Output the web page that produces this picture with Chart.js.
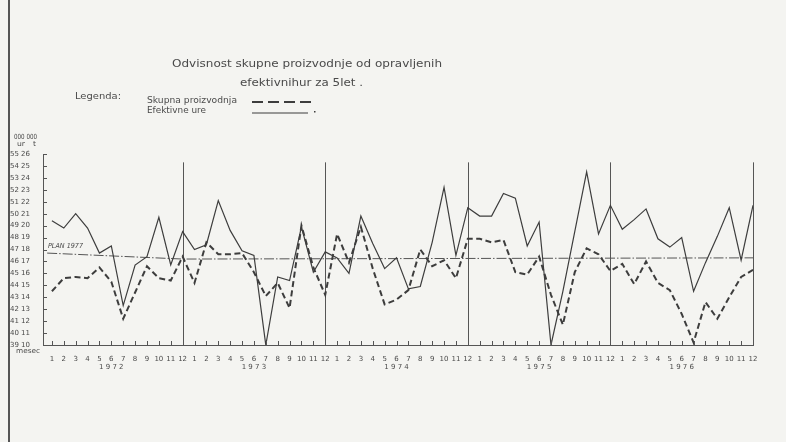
<!DOCTYPE html>
<html>
<head>
<meta charset="utf-8">
<script src="https://cdn.jsdelivr.net/npm/chart.js@4.4.1/dist/chart.umd.min.js"></script>
<style>
  html, body { margin: 0; padding: 0; background: #f3f3f0; }
  canvas { display: block; }
</style>
</head>
<body>
<canvas id="chart" width="786" height="442"></canvas>
<script>
// months 1..12 repeated for 5 years, one year label per block
const monthLabels = ['1', '2', '3', '4', '5', '6', '7', '8', '9', '10', '11', '12'];
const yearLabels = ['1 9 7 2', '1 9 7 3', '1 9 7 4', '1 9 7 5', '1 9 7 6'];

// left column = 000 ur, right column = 000 t
const hoursTicks = [39, 40, 41, 42, 43, 44, 45, 46, 47, 48, 49, 50, 51, 52, 53, 54, 55];
const prodTicks = [10, 11, 12, 13, 14, 15, 16, 17, 18, 19, 20, 21, 22, 23, 24, 25, 26];

// Efektivne ure (000 ur), Jan 1972 .. Dec 1976
const efektivneUre = [
  49.4, 48.8, 50.0, 48.8, 46.7, 47.3, 42.3, 45.7, 46.4, 49.7, 45.7, 48.5,
  47.0, 47.4, 51.1, 48.6, 46.9, 46.5, 39.0, 44.7, 44.4, 48.9, 45.1, 46.8,
  46.3, 45.0, 49.8, 47.5, 45.4, 46.3, 43.7, 43.9, 47.6, 52.2, 46.5, 50.5,
  49.8, 49.8, 51.7, 51.3, 47.3, 49.3, 39.0, 43.5, 48.5, 53.5, 48.3, 50.7,
  48.7, 49.5, 50.4, 47.9, 47.2, 48.0, 43.5, 45.9, 48.1, 50.5, 46.1, 50.7
];

// Skupna proizvodnja (000 t), Jan 1972 .. Dec 1976
const skupnaProizvodnja = [
  14.5, 15.6, 15.7, 15.6, 16.5, 15.3, 12.2, 14.4, 16.6, 15.6, 15.4, 17.4,
  15.2, 18.6, 17.6, 17.6, 17.7, 16.1, 14.1, 15.2, 13.1, 20.0, 16.5, 14.2,
  19.3, 16.9, 19.9, 16.4, 13.4, 13.8, 14.6, 18.0, 16.6, 17.1, 15.6, 18.9,
  18.9, 18.6, 18.8, 16.1, 15.9, 17.4, 14.2, 11.7, 16.1, 18.1, 17.6, 16.2,
  16.8, 15.1, 17.0, 15.2, 14.6, 12.6, 10.2, 13.6, 12.2, 14.0, 15.7, 16.3
];

// plan line (000 ur)
const planX = [-0.4, 11, 59];
const planY = [46.7, 46.2, 46.3];

const ink = '#3d3d3d';
const textInk = '#4a4a4a';

const toPoints = (arr) => arr.map((v, i) => ({ x: i, y: v }));

function fitText(ctx, text, x1, x2, y, size, style) {
  ctx.save();
  ctx.font = (style || '') + ' ' + size + 'px "DejaVu Sans"';
  ctx.fillStyle = textInk;
  ctx.textBaseline = 'middle';
  ctx.textAlign = 'left';
  const w = ctx.measureText(text).width;
  ctx.translate(x1, y);
  ctx.scale((x2 - x1) / w, 1);
  ctx.fillText(text, 0, 0);
  ctx.restore();
}

const pagePlugin = {
  id: 'page',
  beforeDraw(chart) {
    const ctx = chart.ctx;
    ctx.save();
    ctx.fillStyle = '#f4f4f1';
    ctx.fillRect(0, 0, chart.width, chart.height);
    ctx.strokeStyle = '#555';
    ctx.lineWidth = 2;
    ctx.beginPath();
    ctx.moveTo(9, 0);
    ctx.lineTo(9, chart.height);
    ctx.stroke();
    ctx.restore();
  },
  beforeDatasetsDraw(chart) {
    // year separators at each December
    const ctx = chart.ctx;
    const xs = chart.scales.x, ys = chart.scales.y;
    ctx.save();
    ctx.strokeStyle = '#555';
    ctx.lineWidth = 1;
    yearLabels.forEach((_, k) => {
      const px = Math.round(xs.getPixelForValue(k * 12 + 11)) + 0.5;
      ctx.beginPath();
      ctx.moveTo(px, ys.getPixelForValue(54.3));
      ctx.lineTo(px, ys.bottom);
      ctx.stroke();
    });
    ctx.restore();
  },
  afterDraw(chart) {
    const ctx = chart.ctx;
    const xs = chart.scales.x, ys = chart.scales.y;

    // inward tick marks
    ctx.save();
    ctx.strokeStyle = '#555';
    ctx.lineWidth = 1;
    hoursTicks.forEach((v) => {
      const py = Math.round(ys.getPixelForValue(v)) + 0.5;
      ctx.beginPath();
      ctx.moveTo(xs.left, py);
      ctx.lineTo(xs.left + 4, py);
      ctx.stroke();
    });
    for (let i = 0; i < efektivneUre.length; i++) {
      const px = Math.round(xs.getPixelForValue(i)) + 0.5;
      ctx.beginPath();
      ctx.moveTo(px, ys.bottom);
      ctx.lineTo(px, ys.bottom - 4);
      ctx.stroke();
    }
    ctx.restore();

    // title
    fitText(ctx, 'Odvisnost skupne proizvodnje od opravljenih', 172, 442, 64, 11);
    fitText(ctx, 'efektivnihur za 5let .', 240, 363, 83, 11);

    // legend
    fitText(ctx, 'Legenda:', 75, 121, 97, 9);
    fitText(ctx, 'Skupna proizvodnja', 147, 237, 101, 8);
    fitText(ctx, 'Efektivne ure', 147, 206, 111, 8);
    ctx.save();
    ctx.strokeStyle = ink;
    ctx.lineWidth = 2;
    ctx.setLineDash([11, 5]);
    ctx.beginPath();
    ctx.moveTo(252, 102);
    ctx.lineTo(313, 102);
    ctx.stroke();
    ctx.setLineDash([]);
    ctx.lineWidth = 1;
    ctx.beginPath();
    ctx.moveTo(252, 113);
    ctx.lineTo(308, 113);
    ctx.stroke();
    ctx.fillStyle = ink;
    ctx.fillRect(314, 111, 1.5, 1.5);
    ctx.restore();

    // axis headers
    fitText(ctx, '000 000', 14, 37, 137, 7);
    fitText(ctx, 'ur', 17, 25, 144, 7);
    fitText(ctx, 't', 33, 36, 144, 7);
    fitText(ctx, 'mesec', 16, 40, 351, 7);

    // plan label
    fitText(ctx, 'PLAN 1977', 48, 83, 246, 7, 'italic');

    // years under month 6 of each block
    ctx.save();
    ctx.font = '7px "DejaVu Sans"';
    ctx.fillStyle = textInk;
    ctx.textAlign = 'center';
    ctx.textBaseline = 'middle';
    yearLabels.forEach((y, k) => {
      ctx.fillText(y, xs.getPixelForValue(k * 12 + 5), 367);
    });
    ctx.restore();
  }
};

new Chart(document.getElementById('chart'), {
  type: 'line',
  data: {
    datasets: [
      {
        label: 'Efektivne ure',
        data: toPoints(efektivneUre),
        yAxisID: 'y',
        borderColor: ink,
        borderWidth: 1.2,
        pointRadius: 0,
        tension: 0
      },
      {
        label: 'Skupna proizvodnja',
        data: toPoints(skupnaProizvodnja),
        yAxisID: 'y2',
        borderColor: ink,
        borderWidth: 2,
        borderDash: [6, 3.5],
        pointRadius: 0,
        tension: 0
      },
      {
        label: 'Plan',
        data: planX.map((x, i) => ({ x: x, y: planY[i] })),
        yAxisID: 'y',
        borderColor: '#555',
        borderWidth: 1,
        borderDash: [10, 2, 1.5, 2],
        pointRadius: 0,
        tension: 0
      }
    ]
  },
  options: {
    responsive: false,
    animation: false,
    devicePixelRatio: 1,
    layout: { padding: { top: 154, left: 0, right: 33, bottom: 72 } },
    plugins: {
      legend: { display: false },
      title: { display: false },
      tooltip: { enabled: false }
    },
    scales: {
      x: {
        type: 'linear',
        min: -0.75,
        max: 59,
        afterFit: (s) => { s.height = 25; },
        afterBuildTicks: (s) => {
          s.ticks = efektivneUre.map((_, i) => ({ value: i }));
        },
        grid: { display: false },
        border: { color: '#555', width: 1 },
        ticks: {
          autoSkip: false,
          maxRotation: 0,
          padding: 2,
          color: textInk,
          font: { family: 'DejaVu Sans', size: 7 },
          callback: (v) => monthLabels[v % 12]
        }
      },
      y: {
        min: 39,
        max: 55,
        afterFit: (s) => { s.width = 43; },
        grid: { display: false },
        border: { color: '#555', width: 1 },
        ticks: {
          stepSize: 1,
          padding: 5,
          color: textInk,
          font: { family: 'DejaVu Sans', size: 7 },
          callback: (v) => {
            const k = hoursTicks.indexOf(v);
            return k < 0 ? '' : hoursTicks[k] + ' ' + prodTicks[k];
          }
        }
      },
      y2: {
        min: 10,
        max: 26,
        display: false
      }
    }
  },
  plugins: [pagePlugin]
});
</script>
</body>
</html>
